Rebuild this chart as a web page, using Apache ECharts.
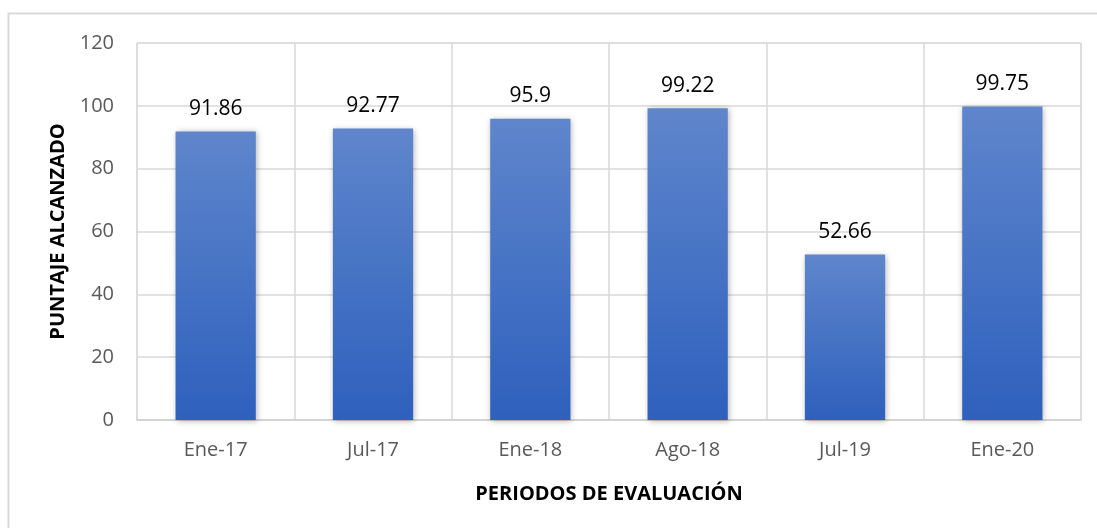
<!DOCTYPE html>
<html>
<head>
<meta charset="utf-8">
<script src="https://cdn.jsdelivr.net/npm/echarts@6/dist/echarts.min.js"></script>
<style>
  html, body { margin: 0; padding: 0; background: #fff; }
  #chart { width: 1097px; height: 528px; }
</style>
</head>
<body>
<div id="chart"></div>
<script>
// datos del grafico
const categorias = ['Ene-17', 'Jul-17', 'Ene-18', 'Ago-18', 'Jul-19', 'Ene-20'];
const puntajes = [91.86, 92.77, 95.9, 99.22, 52.66, 99.75];
const ticksY = [0, 20, 40, 60, 80, 100, 120];

const fuente = '"Open Sans", "Noto Sans", sans-serif';

const myChart = echarts.init(document.getElementById('chart'));

myChart.setOption({
  animation: false,
  backgroundColor: '#fff',
  graphic: [{
    type: 'rect',
    shape: { x: 8.5, y: 13.5, width: 1100, height: 530 },
    style: { fill: 'none', stroke: '#d9d9d9', lineWidth: 2 },
    silent: true
  }],
  grid: {
    left: 137, top: 43, right: 16, bottom: 108,
    show: true, borderColor: '#d9d9d9', borderWidth: 1
  },
  xAxis: {
    type: 'category',
    data: categorias,
    name: 'PERIODOS DE EVALUACIÓN',
    nameLocation: 'middle',
    nameGap: 64,
    nameTextStyle: { fontFamily: fuente, fontSize: 20, fontWeight: 'bold', color: '#000' },
    axisLine: { lineStyle: { color: '#d0d0d0', width: 1.5 } },
    axisTick: { show: false },
    axisLabel: { fontFamily: fuente, fontSize: 20, color: '#595959', margin: 20 },
    splitLine: { show: true, lineStyle: { color: '#d9d9d9', width: 1.5 } }
  },
  yAxis: {
    type: 'value',
    min: ticksY[0],
    max: ticksY[ticksY.length - 1],
    interval: 20,
    name: 'PUNTAJE ALCANZADO',
    nameLocation: 'middle',
    nameGap: 68,
    nameRotate: 90,
    nameTextStyle: { fontFamily: fuente, fontSize: 20, fontWeight: 'bold', color: '#000' },
    axisLine: { show: false },
    axisTick: { show: false },
    axisLabel: { fontFamily: fuente, fontSize: 20, color: '#595959', margin: 23 },
    splitLine: { lineStyle: { color: '#d9d9d9', width: 1.5 } }
  },
  series: [{
    type: 'bar',
    data: puntajes,
    barWidth: '51%',
    itemStyle: {
      color: new echarts.graphic.LinearGradient(0, 0, 0, 1, [
        { offset: 0, color: '#5f86cc' },
        { offset: 1, color: '#2e60bd' }
      ]),
      shadowColor: 'rgba(0,0,0,0.3)',
      shadowBlur: 6,
      shadowOffsetX: 1,
      shadowOffsetY: 1
    },
    label: {
      show: true,
      position: 'top',
      distance: 12,
      fontFamily: fuente,
      fontSize: 21,
      color: '#000'
    }
  }]
});
</script>
</body>
</html>
